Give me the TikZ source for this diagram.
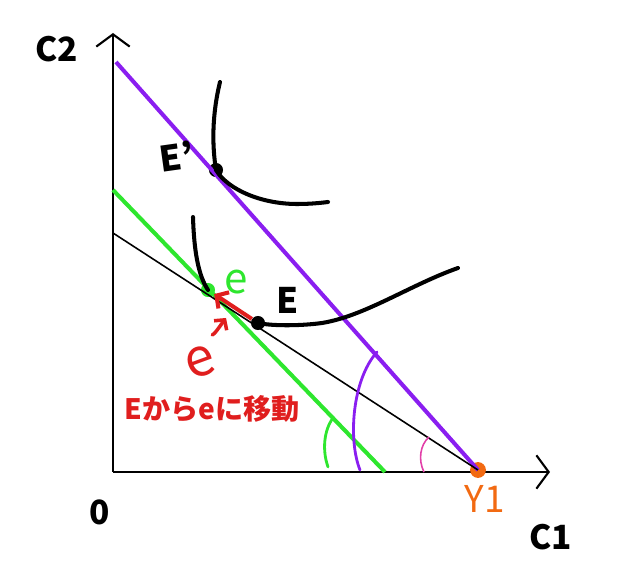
\documentclass[tikz,border=0pt]{standalone}
\usepackage{fontspec}
\setmainfont{Noto Sans CJK JP}
\usetikzlibrary{arrows.meta}

\definecolor{budgetpurple}{HTML}{8A1EF0}
\definecolor{budgetgreen}{HTML}{2EE62E}
\definecolor{movered}{HTML}{E01E1E}
\definecolor{yorange}{HTML}{F26A12}
\definecolor{anglepink}{HTML}{E23FA8}

\tikzset{
    axis/.style={line width=1.2pt},
    chevron/.style={-{Straight Barb[length=7pt,width=19pt]}},
    budget/.style={line width=2.3pt},
    curve/.style={line width=2.3pt,line cap=round},
    dot/.style={circle,fill=black,inner sep=0pt,minimum size=8pt},
    axislabel/.style={font=\fontsize{19}{22}\selectfont\bfseries},
    handlabel/.style={font=\fontsize{20}{24}\selectfont\bfseries}
}

\begin{document}
\begin{tikzpicture}[x=0.02cm,y=-0.02cm]
    \useasboundingbox (0,0) rectangle (620,571);

    % axes
    \coordinate (O) at (113,472);
    \coordinate (ytop) at (113,33);
    \coordinate (xend) at (550,472);
    \draw[axis,chevron] (O) -- (ytop);
    \draw[axis,chevron] (O) -- (xend);
    \node[axislabel] (c2) at (57,49) {C2};
    \node[axislabel] (zero) at (100,512) {0};
    \node[axislabel] (c1) at (551,537) {C1};

    % points
    \node[dot] (Eprime) at (216,170) {};
    \node[dot] (E) at (258,323) {};
    \node[dot,fill=budgetgreen] (e) at (208,290) {};
    \node[dot,fill=yorange,minimum size=9pt] (Y1) at (478,470) {};

    % budget lines
    \coordinate (p0) at (116,62);
    \coordinate (g0) at (113,190);
    \coordinate (g1) at (385,472);
    \coordinate (b0) at (113,233);
    \draw[budget,budgetpurple] (p0) -- (Y1.center);
    \draw[budget,budgetgreen] (g0) -- (g1);
    \draw[line width=0.9pt] (b0) -- (Y1.center);

    % indifference curves
    \draw[curve] (220,82) .. controls (212,115) and (212,145) .. (Eprime.center)
        .. controls (228,190) and (262,204) .. (297,204)
        .. controls (310,204) and (320,203) .. (328,202);
    \draw[curve] (193,217) .. controls (194,250) and (198,275) .. (e.center);
    \draw[curve] (E.center) .. controls (272,326) and (300,326) .. (322,323)
        .. controls (365,316) and (410,285) .. (458,268);

    % angles
    \draw[line width=1.6pt,budgetgreen,line cap=round] (328,467) .. controls (322,450) and (324,430) .. (333,418);
    \draw[line width=1.6pt,budgetpurple,line cap=round] (360,470) .. controls (348,440) and (352,380) .. (377,352);
    \draw[line width=0.9pt,anglepink] (424,472) .. controls (418,460) and (420,445) .. (429,437);

    % labels
    \node[handlabel,rotate=8] (lEprime) at (177,156) {E'};
    \node[handlabel] (lE) at (288,300) {E};
    \node[font=\fontsize{24}{26}\selectfont,text=budgetgreen] (le) at (236,282) {e};
    \node[font=\fontsize{21}{24}\selectfont,text=yorange] (lY1) at (485,499) {Y1};
    \node[font=\fontsize{16}{18}\selectfont\bfseries,text=movered] (move) at (212,409) {Eからeに移動};

    % movement E -> e
    \node[font=\fontsize{30}{32}\selectfont\itshape,text=movered,rotate=20] (re) at (200,362) {e};
    \draw[line width=2.3pt,movered,-{Straight Barb[length=5pt,width=11pt]}] (E) -- (e);
    \draw[line width=2pt,movered,line cap=round,-{Straight Barb[length=4pt,width=9pt]}]
        (re.north east) .. controls (214,335) and (220,326) .. (226,318);
\end{tikzpicture}
\end{document}
